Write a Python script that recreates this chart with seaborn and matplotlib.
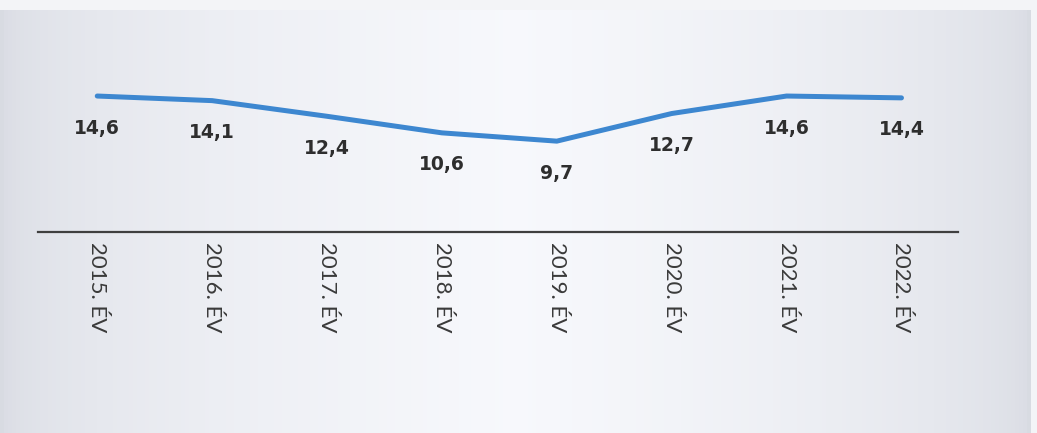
import numpy as np
import pandas as pd
import matplotlib
matplotlib.use("Agg")
import matplotlib.pyplot as plt
import seaborn as sns

years = ["2015. ÉV", "2016. ÉV", "2017. ÉV", "2018. ÉV", "2019. ÉV", "2020. ÉV", "2021. ÉV", "2022. ÉV"]
values = [14.6, 14.1, 12.4, 10.6, 9.7, 12.7, 14.6, 14.4]
value_labels = ["14,6", "14,1", "12,4", "10,6", "9,7", "12,7", "14,6", "14,4"]

sns.set_style("white")
plt.rcParams['font.family'] = ['Lato', 'DejaVu Sans']

df = pd.DataFrame({"x": np.arange(len(years)), "v": values})

fig = plt.figure(figsize=(10.37, 4.33), dpi=100)
fig.patch.set_facecolor("#f3f4f7")

# subtle background gradient (panel)
bg = fig.add_axes([0, 0, 0.994, 0.977], zorder=-10)
grad = np.linspace(0, 1, 256)
img = np.zeros((2, 256, 3))
c_edge = np.array([0.85, 0.86, 0.89])
c_mid = np.array([0.97, 0.975, 0.99])
for i in range(256):
    t = (1 - abs(grad[i] - 0.5) * 2) ** 0.5
    img[:, i, :] = c_edge + (c_mid - c_edge) * t
bg.imshow(img, aspect="auto", extent=[0, 1, 0, 1])
bg.set_axis_off()

ax = fig.add_axes([0.0366, 0.464, 0.887, 0.513])
ax.patch.set_alpha(0)
sns.lineplot(data=df, x="x", y="v", ax=ax, color="#3d87d0", linewidth=3.6,
             solid_capstyle="round", solid_joinstyle="round")

for xi, v, lab in zip(df["x"], values, value_labels):
    ax.annotate(lab, (xi, v), xytext=(0, -32), textcoords="offset pixels",
                ha="center", va="center", fontsize=13.5, fontweight="bold",
                color="#2e2e2e", family=["DejaVu Sans"])

ax.set_xlim(-0.516, 7.49)
ax.set_ylim(-0.18, 23.95)
ax.set_xticks(df["x"])
ax.set_xticklabels(years, rotation=-90, fontsize=16, fontweight="normal",
                   color="#3a3a3a", va="top", ha="center")
ax.tick_params(axis="x", length=0, pad=7)
ax.set_yticks([])
ax.set_xlabel("")
ax.set_ylabel("")
for s in ["top", "right", "left"]:
    ax.spines[s].set_visible(False)
ax.spines["bottom"].set_color("#3f3f3f")
ax.spines["bottom"].set_linewidth(1.6)

fig.savefig("out.png", dpi=100, facecolor=fig.get_facecolor())
